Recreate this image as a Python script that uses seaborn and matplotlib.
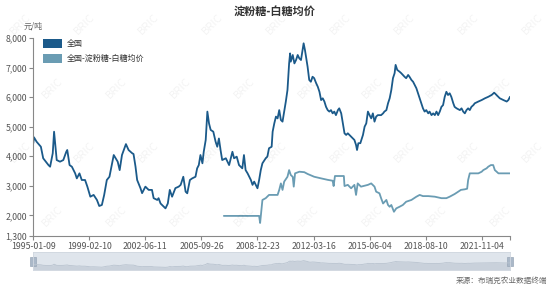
import numpy as np
import pandas as pd
import matplotlib
matplotlib.use("Agg")
import matplotlib.pyplot as plt
from matplotlib.patches import Patch, Rectangle
import seaborn as sns

# ---------------- data ----------------
title = "淀粉糖-白糖均价"
unit = "元/吨"
source = "来源：布瑞克农业数据终端"
series_names = ["全国", "全国-淀粉糖-白糖均价"]

tick_labels = ["1995-01-09", "1999-02-10", "2002-06-11", "2005-09-26", "2008-12-23",
               "2012-03-16", "2015-06-04", "2018-08-10", "2021-11-04"]
tick_step = 170          # samples between labelled categories
n_samples = 1447

y_ticks = [1300, 2000, 3000, 4000, 5000, 6000, 7000, 8000]

main_idx = [0, 2, 10, 23, 30, 46, 51, 59, 63, 71, 81, 91, 100, 103, 110, 117, 127, 132, 140, 147,
            157, 164, 173, 183, 193, 200, 208, 215, 223, 231, 244, 256, 262, 269, 281, 289, 300, 304,
            310, 315, 325, 330, 340, 350, 360, 365, 376, 380, 386, 396, 401, 408, 414, 421, 431, 441,
            447, 455, 462, 467, 475, 482, 492, 497, 502, 507, 513, 517, 523, 528, 533, 538, 546, 553,
            558, 563, 568, 573, 584, 594, 604, 609, 617, 624, 634, 639, 644, 650, 660, 665, 670, 675,
            680, 685, 690, 695, 705, 710, 715, 723, 726, 731, 736, 741, 746, 751, 756, 761, 766, 771,
            776, 779, 781, 787, 792, 797, 802, 807, 812, 817, 820, 824, 828, 832, 837, 842, 847, 852,
            858, 863, 868, 873, 878, 883, 888, 893, 898, 903, 908, 913, 918, 924, 928, 934, 939, 944,
            949, 954, 959, 964, 974, 979, 982, 986, 992, 1000, 1005, 1010, 1015, 1020, 1025, 1030, 1035,
            1040, 1045, 1055, 1061, 1065, 1071, 1076, 1081, 1086, 1091, 1096, 1099, 1104, 1111, 1116,
            1126, 1131, 1137, 1141, 1147, 1152, 1157, 1162, 1167, 1172, 1177, 1182, 1187, 1192, 1198,
            1202, 1208, 1213, 1218, 1223, 1228, 1233, 1238, 1243, 1248, 1253, 1258, 1263, 1268, 1274,
            1278, 1284, 1294, 1299, 1304, 1309, 1314, 1319, 1324, 1329, 1335, 1339, 1350, 1360, 1370,
            1380, 1390, 1398, 1405, 1415, 1426, 1436, 1441, 1446]
main_val = [4440, 4640, 4490, 4320, 3930, 3700, 3645, 4100, 4830, 3870, 3815, 3870, 4150, 4210, 3700,
            3645, 3420, 3250, 3420, 3195, 3195, 2970, 2630, 2690, 2520, 2315, 2350, 2690, 3195, 3305,
            4040, 3815, 3530, 4040, 4410, 4210, 4100, 4075, 3650, 3195, 2920, 2750, 2970, 2860, 2860,
            2580, 2520, 2580, 2400, 2290, 2235, 2400, 2860, 2630, 2920, 2970, 3030, 3305, 2800, 2745,
            3195, 3250, 3305, 3590, 3700, 4040, 3760, 4150, 4550, 5510, 5110, 4890, 4830, 4490, 4320,
            4600, 4210, 3870, 3930, 3700, 4150, 3930, 3985, 3700, 3590, 4040, 3530, 3420, 3195, 3030,
            3140, 3030, 2915, 3195, 3530, 3760, 3930, 3985, 4270, 4320, 4830, 5110, 5340, 5280, 5560,
            5225, 5170, 5510, 5850, 6240, 7140, 7480, 7200, 7425, 7140, 7255, 7425, 7310, 7255, 7595,
            7820, 7595, 7310, 7030, 6580, 6520, 6690, 6640, 6470, 6350, 6180, 5900, 5960, 5850, 5670,
            5560, 5510, 5560, 5450, 5510, 5390, 5560, 5620, 5450, 5110, 4775, 4720, 4775, 4720, 4660,
            4550, 4380, 4210, 4440, 4440, 4720, 5000, 5110, 5510, 5390, 5280, 5450, 5170, 5340, 5390,
            5390, 5450, 5510, 5560, 5790, 5960, 6240, 6640, 6810, 7090, 6920, 6860, 6810, 6690, 6640,
            6750, 6690, 6580, 6520, 6410, 6300, 6130, 5960, 5790, 5620, 5510, 5560, 5450, 5510, 5390,
            5450, 5390, 5510, 5390, 5510, 5670, 5730, 6010, 6180, 6070, 6130, 6010, 5790, 5670, 5620,
            5560, 5620, 5510, 5450, 5560, 5620, 5560, 5670, 5730, 5790, 5850, 5900, 5960, 6010, 6070,
            6150, 6070, 5960, 5900, 5850, 5900, 6010]

diff_idx = [578, 685, 688, 695, 705, 715, 741, 746, 751, 756, 761, 771, 776, 781, 787, 790, 794, 807,
            822, 832, 852, 873, 893, 908, 911, 915, 942, 944, 954, 964, 974, 979, 984, 994, 1015, 1025,
            1035, 1040, 1050, 1055, 1061, 1071, 1076, 1081, 1086, 1094, 1101, 1111, 1121, 1131, 1147,
            1162, 1172, 1182, 1198, 1218, 1238, 1253, 1263, 1278, 1289, 1297, 1309, 1316, 1319, 1324,
            1350, 1360, 1365, 1375, 1380, 1388, 1395, 1400, 1411, 1446]
diff_val = [1980, 1980, 1740, 2520, 2580, 2690, 2690, 2860, 3080, 2860, 3140, 3305, 3530, 3365, 3300,
            2970, 3420, 3475, 3460, 3400, 3305, 3250, 3200, 3170, 2990, 3330, 3330, 2990, 3030, 2915,
            3030, 2690, 3080, 2970, 3030, 3080, 2970, 2800, 2745, 2580, 2400, 2520, 2350, 2290, 2350,
            2120, 2235, 2290, 2350, 2460, 2520, 2630, 2690, 2650, 2650, 2630, 2580, 2580, 2630, 2720,
            2800, 2860, 2880, 2900, 3195, 3420, 3420, 3475, 3530, 3590, 3645, 3700, 3700, 3530, 3420,
            3420]

colors = ["#1b5a8a", "#6a9cb3"]

# ---------------- figure ----------------
sns.set_theme(style="white")
plt.rcParams["font.family"] = ["Noto Sans CJK SC", "DejaVu Sans"]

W, H = 550, 288
fig = plt.figure(figsize=(W / 100, H / 100), dpi=100)
ax = fig.add_axes([33.3 / W, 1 - 236 / H, (510 - 33.3) / W, (236 - 38) / H])

df_main = pd.DataFrame({"x": main_idx, "y": main_val})
df_diff = pd.DataFrame({"x": diff_idx, "y": diff_val})
sns.lineplot(data=df_main, x="x", y="y", ax=ax, color=colors[0], linewidth=1.3)
sns.lineplot(data=df_diff, x="x", y="y", ax=ax, color=colors[1], linewidth=1.3)

ax.set_xlim(0, n_samples - 1)
ax.set_ylim(y_ticks[0], y_ticks[-1])
ax.set_yticks(y_ticks)
ax.set_yticklabels([f"{v:,}" for v in y_ticks])
xt = [i * tick_step for i in range(len(tick_labels))] + [n_samples - 1]
ax.set_xticks(xt)
ax.set_xticklabels(tick_labels + [""])
ax.set_xlabel("")
ax.set_ylabel("")

for s in ["top", "right"]:
    ax.spines[s].set_visible(False)
for s in ["left", "bottom"]:
    ax.spines[s].set_color("#888888")
    ax.spines[s].set_linewidth(0.8)
ax.tick_params(axis="both", which="both", length=3, width=0.8, color="#888888",
               labelsize=6.3, labelcolor="#555555", pad=1.5)
ax.tick_params(axis="y", left=True)
ax.tick_params(axis="x", bottom=True)
ax.grid(False)

# legend
handles = [Patch(facecolor=c, edgecolor="none") for c in colors]
leg = ax.legend(handles, series_names, loc="upper left", bbox_to_anchor=(0.01, 1.02),
                frameon=False, fontsize=5.8, handlelength=2.4, handleheight=1.3,
                labelspacing=0.75, handletextpad=0.6, borderaxespad=0.2)
for t in leg.get_texts():
    t.set_color("#333333")

# title, unit, source
fig.text(0.5, 1 - 11 / H, title, ha="center", va="center", fontsize=8, fontweight="bold",
         color="#333333")
fig.text(33 / W, 1 - 26 / H, unit, ha="center", va="center", fontsize=5.8, color="#666666")
fig.text(547 / W, 1 - 281 / H, source, ha="right", va="center", fontsize=5.5, color="#666666")

# data-zoom strip
axz = fig.add_axes([33.3 / W, 1 - 270 / H, (510 - 33.3) / W, 18 / H])
axz.set_facecolor("#dfe5ec")
axz.fill_between(main_idx, main_val, 0, color="#c9d1db", lw=0)
axz.plot(main_idx, main_val, color="#b9c3cf", lw=0.6)
axz.set_xlim(0, n_samples - 1)
axz.set_ylim(0, 15000)
axz.set_xticks([])
axz.set_yticks([])
for s in axz.spines.values():
    s.set_color("#d0d7e0")
    s.set_linewidth(0.6)
for xh in (0.0, 1.0):
    axz.add_patch(Rectangle((xh - 0.006, 0.25), 0.012, 0.5, transform=axz.transAxes,
                            facecolor="#aab8c8", edgecolor="#9aa8b8", lw=0.5, clip_on=False))

# watermark (kept fully inside the canvas)
for r, yy in enumerate(range(24, 280, 64)):
    off = 0 if r % 2 == 0 else 32
    for xx in range(20 + off, 535, 64):
        fig.text(xx / W, 1 - yy / H, "BRIC", rotation=45, ha="center", va="center",
                 fontsize=8, color="#000000", alpha=0.05, zorder=0)

fig.savefig("out.png", dpi=100)
